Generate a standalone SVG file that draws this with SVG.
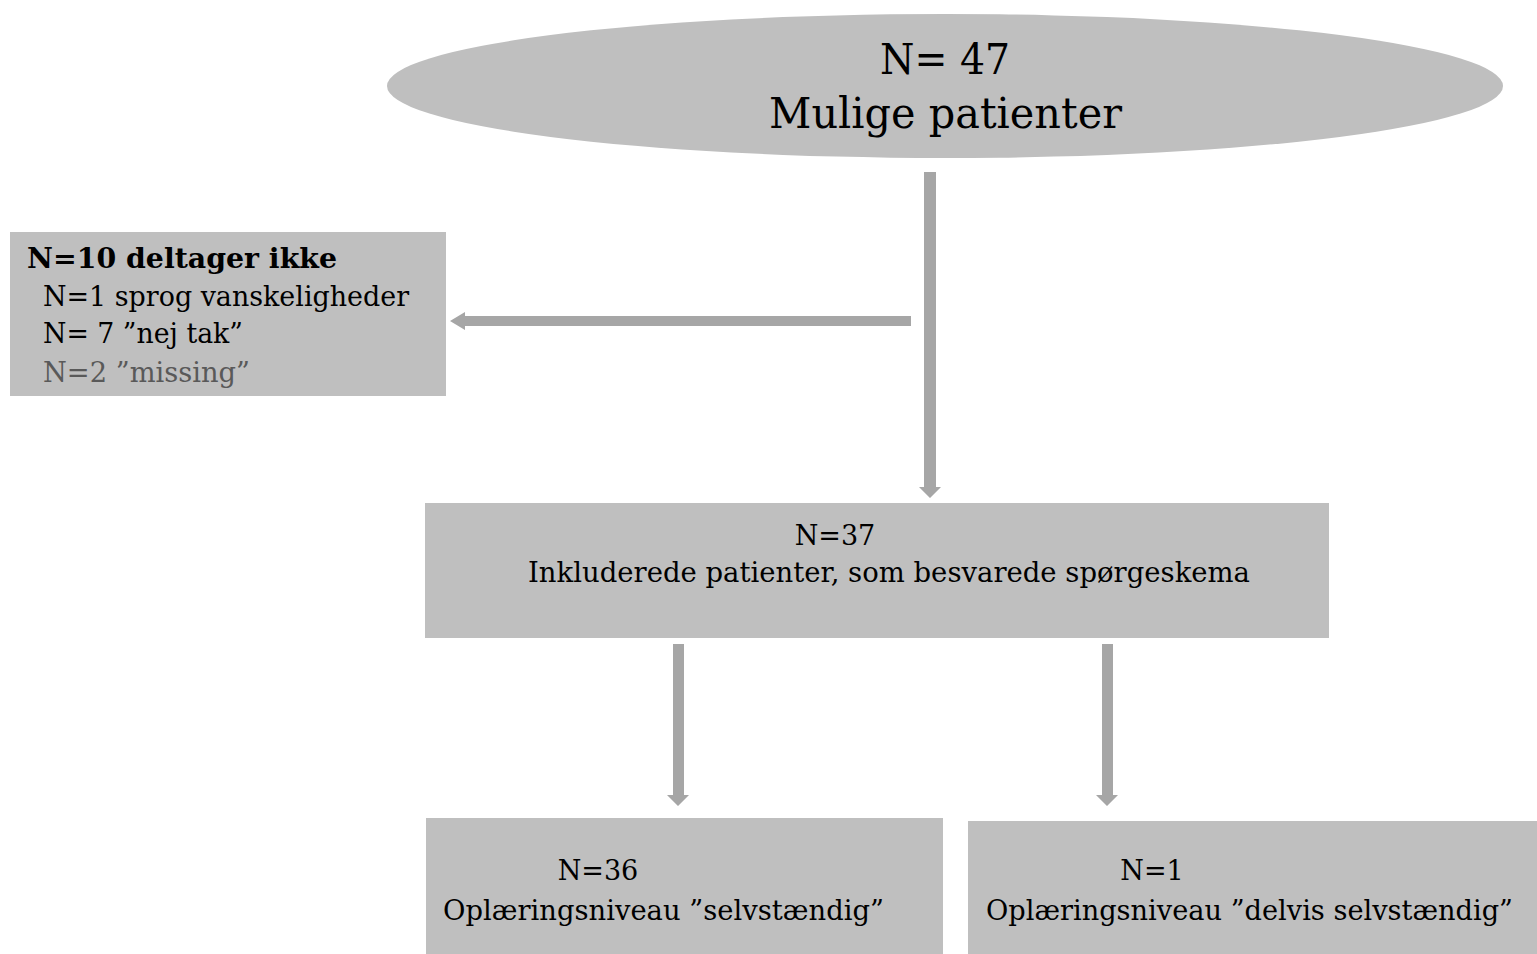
<svg xmlns="http://www.w3.org/2000/svg" width="1537" height="954" viewBox="0 0 1537 954">
<style>
.box{fill:#bfbfbf}
.t{font-family:"DejaVu Serif","Liberation Serif",serif;font-size:27px;fill:#000}
.big{font-family:"DejaVu Serif","Liberation Serif",serif;font-size:43px;fill:#000}
.grey{fill:#595959}
.b{font-weight:bold}
.arr{fill:#a6a6a6}
</style>
<rect width="1537" height="954" fill="#fff"/>
<g id="connectors">
<polygon class="arr" points="924,172 936,172 936,487 941,487 930,498 919,487 924,487"/>
<polygon class="arr" points="911,316 911,326 465,326 465,330 450,321 465,312 465,316"/>
<polygon class="arr" points="673,644 684,644 684,795 689,795 678,806 667,795 673,795"/>
<polygon class="arr" points="1102,644 1113,644 1113,795 1118,795 1107,806 1096,795 1102,795"/>
</g>
<g id="node-top">
<ellipse class="box" cx="945" cy="86" rx="558" ry="72"/>
<text class="big" x="880" y="74" textLength="130" lengthAdjust="spacingAndGlyphs">N= 47</text>
<text class="big" x="769" y="128" textLength="353" lengthAdjust="spacingAndGlyphs">Mulige patienter</text>
</g>
<g id="node-excluded">
<rect class="box" x="10" y="232" width="436" height="164"/>
<text class="t b" x="27" y="268" textLength="310" lengthAdjust="spacingAndGlyphs">N=10 deltager ikke</text>
<text class="t" x="43" y="306" textLength="366" lengthAdjust="spacingAndGlyphs">N=1 sprog vanskeligheder</text>
<text class="t" x="43" y="343" textLength="200" lengthAdjust="spacingAndGlyphs">N= 7 ”nej tak”</text>
<text class="t grey" x="43" y="382" textLength="207" lengthAdjust="spacingAndGlyphs">N=2 ”missing”</text>
</g>
<g id="node-included">
<rect class="box" x="425" y="503" width="904" height="135"/>
<text class="t" x="835" y="545" text-anchor="middle">N=37</text>
<text class="t" x="528" y="582" textLength="722" lengthAdjust="spacingAndGlyphs">Inkluderede patienter, som besvarede spørgeskema</text>
</g>
<g id="node-selv">
<rect class="box" x="426" y="818" width="517" height="136"/>
<text class="t" x="598" y="880" text-anchor="middle">N=36</text>
<text class="t" x="443" y="920" textLength="441" lengthAdjust="spacingAndGlyphs">Oplæringsniveau ”selvstændig”</text>
</g>
<g id="node-delvis">
<rect class="box" x="968" y="821" width="569" height="133"/>
<text class="t" x="1152" y="880" text-anchor="middle">N=1</text>
<text class="t" x="986" y="920" textLength="527" lengthAdjust="spacingAndGlyphs">Oplæringsniveau ”delvis selvstændig”</text>
</g>
</svg>
